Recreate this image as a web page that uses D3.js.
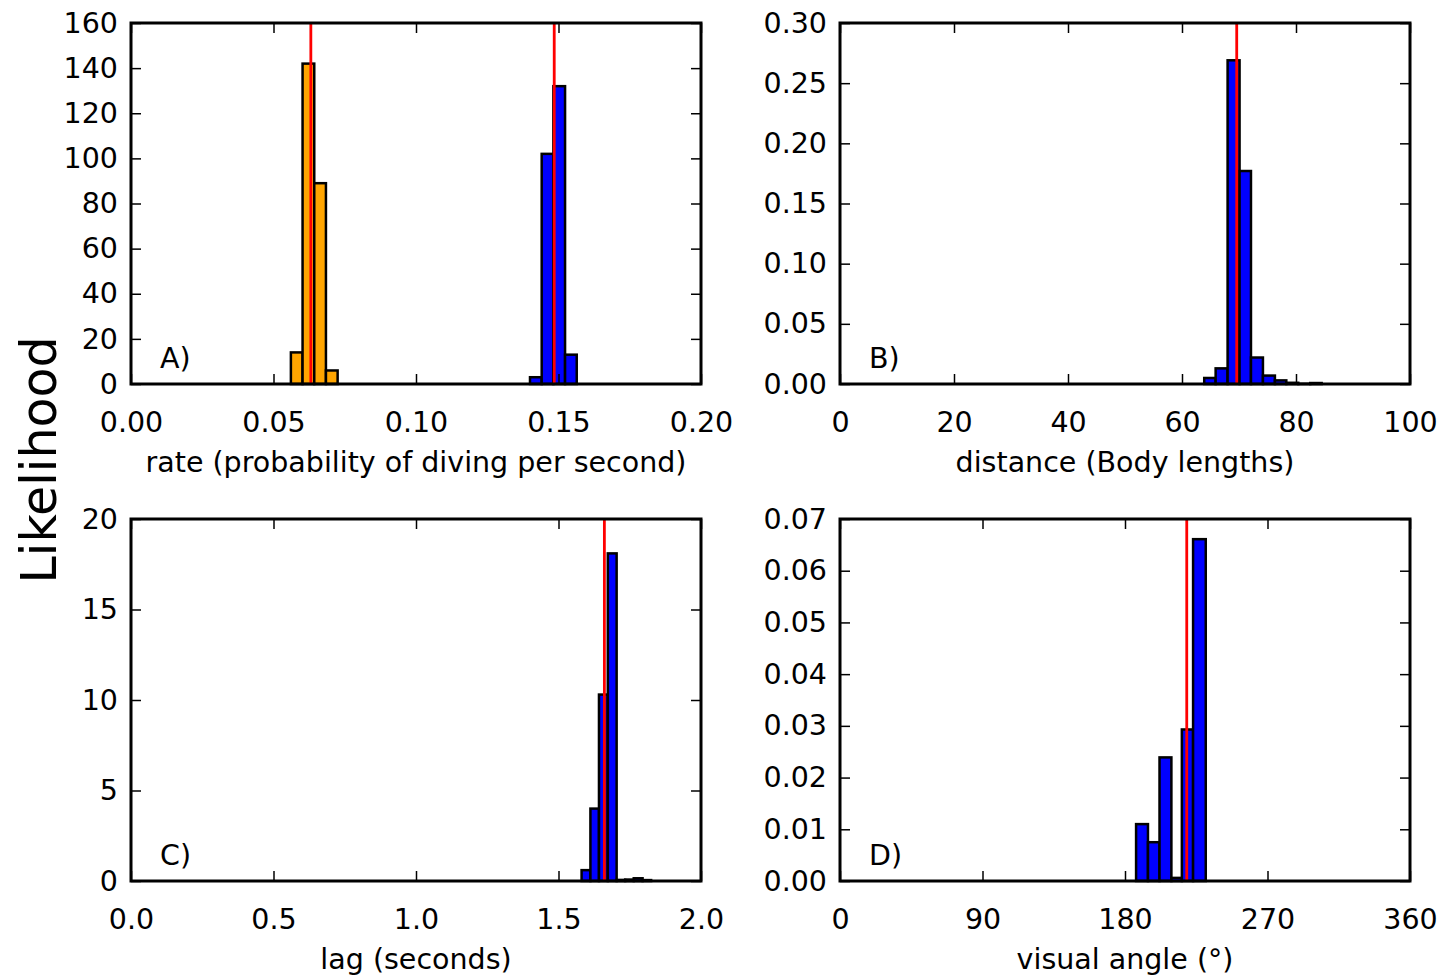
<!DOCTYPE html>
<html>
<head>
<meta charset="utf-8">
<script src="https://cdn.jsdelivr.net/npm/d3@7"></script>
<style>
  html, body { margin: 0; padding: 0; background: #fff; }
  svg { display: block; }
  text { font-family: "DejaVu Sans", sans-serif; fill: #000; }
</style>
</head>
<body>
<svg id="chart" width="1454" height="976"></svg>
<script>
// ---------- data ----------
// Panel A: rate
const aOrangeEdges = [0.0561, 0.0602, 0.0643, 0.0684, 0.0725];
const aOrangeValues = [14, 142, 89, 6];
const aBlueEdges = [0.1400, 0.1441, 0.1482, 0.1523, 0.1564];
const aBlueValues = [3, 102, 132, 13];
const aRedLines = [0.0631, 0.1485];
const aXTicks = [0.00, 0.05, 0.10, 0.15, 0.20];
const aYTicks = [0, 20, 40, 60, 80, 100, 120, 140, 160];

// Panel B: distance
const bEdges = [63.9, 65.9, 68.0, 70.1, 72.1, 74.2, 76.3, 78.3, 80.4, 82.5, 84.5];
const bValues = [0.005, 0.013, 0.269, 0.177, 0.022, 0.007, 0.003, 0.001, 0.0002, 0.0008];
const bRedLines = [69.6];
const bXTicks = [0, 20, 40, 60, 80, 100];
const bYTicks = [0.00, 0.05, 0.10, 0.15, 0.20, 0.25, 0.30];

// Panel C: lag
const cEdges = [1.581, 1.612, 1.642, 1.673, 1.704, 1.734, 1.764, 1.795, 1.825];
const cValues = [0.6, 4.0, 10.3, 18.1, 0.06, 0.08, 0.15, 0.05];
const cRedLines = [1.661];
const cXTicks = [0.0, 0.5, 1.0, 1.5, 2.0];
const cYTicks = [0, 5, 10, 15, 20];

// Panel D: visual angle
const dEdges = [187.0, 194.5, 201.8, 209.3, 215.9, 223.0, 231.0];
const dValues = [0.011, 0.0075, 0.0239, 0.0006, 0.0293, 0.0661];
const dRedLines = [219];
const dXTicks = [0, 90, 180, 270, 360];
const dYTicks = [0.00, 0.01, 0.02, 0.03, 0.04, 0.05, 0.06, 0.07];

const svg = d3.select("#chart");
const FS = 28.5;

function panel(cfg) {
  const {left, top, width, height, xDomain, yDomain, xTicks, yTicks, xFmt, yFmt,
         series, redLines, label, xLabel} = cfg;
  const x = d3.scaleLinear().domain(xDomain).range([left, left + width]);
  const y = d3.scaleLinear().domain(yDomain).range([top + height, top]);
  const g = svg.append("g");
  const tick = 10;

  // bars
  series.forEach(s => {
    const bins = s.values.map((v, i) => ({x0: s.edges[i], x1: s.edges[i + 1], v}));
    g.append("g").selectAll("rect").data(bins).join("rect")
      .attr("x", d => x(d.x0))
      .attr("width", d => x(d.x1) - x(d.x0))
      .attr("y", d => y(d.v))
      .attr("height", d => y(0) - y(d.v))
      .attr("fill", s.color)
      .attr("stroke", "#000")
      .attr("stroke-width", 2.5);
  });

  // red lines
  g.append("g").selectAll("line").data(redLines).join("line")
    .attr("x1", d => x(d)).attr("x2", d => x(d))
    .attr("y1", top).attr("y2", top + height)
    .attr("stroke", "#ff0000").attr("stroke-width", 2.8);

  // axes with inward ticks
  const axB = d3.axisBottom(x).tickValues(xTicks).tickFormat(xFmt).tickSizeInner(-tick).tickSizeOuter(0).tickPadding(28);
  const axT = d3.axisTop(x).tickValues(xTicks).tickFormat("").tickSizeInner(-tick).tickSizeOuter(0);
  const axL = d3.axisLeft(y).tickValues(yTicks).tickFormat(yFmt).tickSizeInner(-tick).tickSizeOuter(0).tickPadding(13);
  const axR = d3.axisRight(y).tickValues(yTicks).tickFormat("").tickSizeInner(-tick).tickSizeOuter(0);

  const styleAxis = sel => {
    sel.select(".domain").remove();
    sel.selectAll(".tick line").attr("stroke", "#000").attr("stroke-width", 1.5);
    sel.selectAll(".tick text").attr("font-size", FS).attr("font-family", "DejaVu Sans, sans-serif").attr("fill", "#000");
  };
  g.append("g").attr("transform", `translate(0,${top + height})`).call(axB).call(styleAxis);
  g.append("g").attr("transform", `translate(0,${top})`).call(axT).call(styleAxis);
  g.append("g").attr("transform", `translate(${left},0)`).call(axL).call(styleAxis);
  g.append("g").attr("transform", `translate(${left + width},0)`).call(axR).call(styleAxis);

  // frame
  g.append("rect").attr("x", left).attr("y", top).attr("width", width).attr("height", height)
    .attr("fill", "none").attr("stroke", "#000").attr("stroke-width", 3);

  // panel label
  g.append("text").attr("x", left + 29).attr("y", top + height - 16)
    .attr("font-size", FS).text(label);

  // x label
  g.append("text").attr("x", left + width / 2).attr("y", top + height + 88)
    .attr("text-anchor", "middle").attr("font-size", FS).text(xLabel);
}

const W = 570, H = 361;
panel({left: 131, top: 23, width: W, height: H, xDomain: [0, 0.2], yDomain: [0, 160],
  xTicks: aXTicks, yTicks: aYTicks, xFmt: d3.format(".2f"), yFmt: d3.format("d"),
  series: [{edges: aOrangeEdges, values: aOrangeValues, color: "#ffa500"},
           {edges: aBlueEdges, values: aBlueValues, color: "#0000ff"}],
  redLines: aRedLines, label: "A)", xLabel: "rate (probability of diving per second)"});

panel({left: 840, top: 23, width: W, height: H, xDomain: [0, 100], yDomain: [0, 0.30],
  xTicks: bXTicks, yTicks: bYTicks, xFmt: d3.format("d"), yFmt: d3.format(".2f"),
  series: [{edges: bEdges, values: bValues, color: "#0000ff"}],
  redLines: bRedLines, label: "B)", xLabel: "distance (Body lengths)"});

panel({left: 131, top: 519, width: W, height: 362, xDomain: [0, 2], yDomain: [0, 20],
  xTicks: cXTicks, yTicks: cYTicks, xFmt: d3.format(".1f"), yFmt: d3.format("d"),
  series: [{edges: cEdges, values: cValues, color: "#0000ff"}],
  redLines: cRedLines, label: "C)", xLabel: "lag (seconds)"});

panel({left: 840, top: 519, width: W, height: 362, xDomain: [0, 360], yDomain: [0, 0.07],
  xTicks: dXTicks, yTicks: dYTicks, xFmt: d3.format("d"), yFmt: d3.format(".2f"),
  series: [{edges: dEdges, values: dValues, color: "#0000ff"}],
  redLines: dRedLines, label: "D)", xLabel: "visual angle (°)"});

// shared y label
svg.append("text")
  .attr("transform", "translate(56,460) rotate(-90)")
  .attr("text-anchor", "middle")
  .attr("font-size", 49)
  .text("Likelihood");
</script>
</body>
</html>
